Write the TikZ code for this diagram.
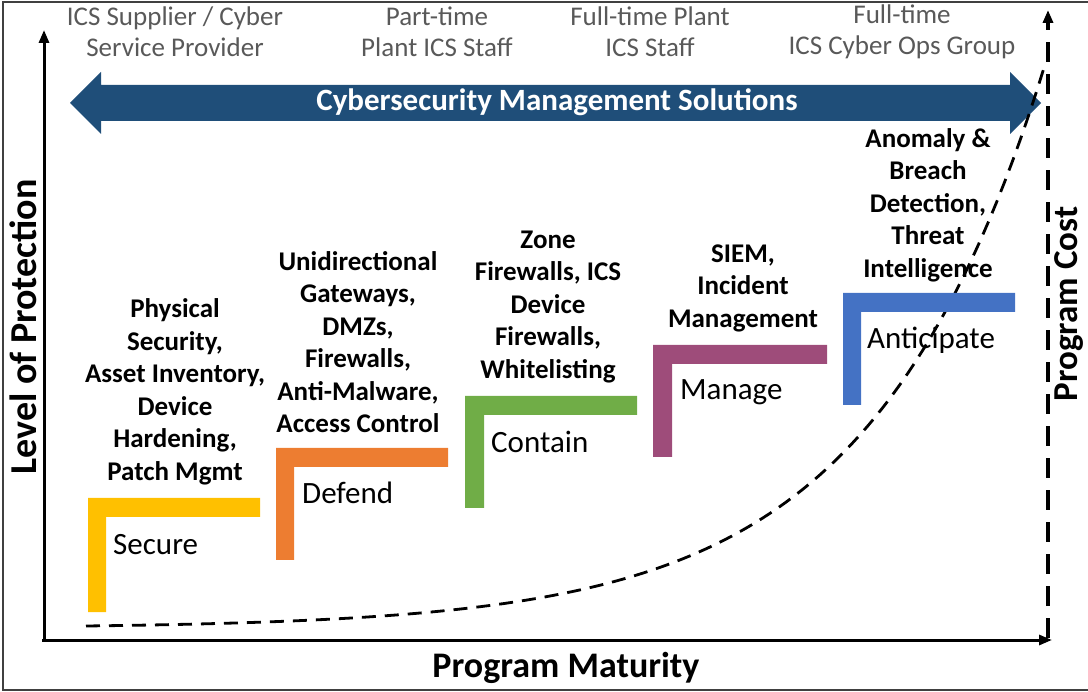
\documentclass[tikz,border=0pt]{standalone}
\usepackage{fontspec}
\setmainfont{Carlito}
\usetikzlibrary{arrows.meta}
\definecolor{navy}{HTML}{1F4E79}
\definecolor{cyel}{HTML}{FFC000}
\definecolor{cora}{HTML}{ED7D31}
\definecolor{cgrn}{HTML}{70AD47}
\definecolor{cpur}{HTML}{9E4C7A}
\definecolor{cblu}{HTML}{4472C4}
\definecolor{tgray}{HTML}{595959}
\begin{document}
\begin{tikzpicture}[x=1pt,y=-1pt,
  toplabel/.style={align=center,text=tgray,font=\fontsize{27}{31}\selectfont,inner sep=0pt},
  desc/.style={align=center,font=\bfseries\fontsize{27}{32.5}\selectfont,inner sep=0pt},
  stagename/.style={anchor=west,font=\fontsize{31}{36}\selectfont,inner sep=0pt},
  axislabel/.style={font=\bfseries\fontsize{35}{40}\selectfont,inner sep=0pt},
  axisline/.style={line width=3pt,-{Triangle[length=13pt,width=10pt]}},
  costline/.style={line width=3.4pt,dash pattern=on 20pt off 12pt,-{Triangle[length=13pt,width=10pt]}},
  curveline/.style={line width=2.8pt,dash pattern=on 14pt off 9pt}
]
\useasboundingbox (0,0) rectangle (1088,692);
% frame
\draw[line width=1.6pt,black!75] (3,2) rectangle (1095,690);

% axes
\coordinate (origin) at (44,641);
\coordinate (ytop) at (44,30);
\coordinate (xstart) at (42,640);
\coordinate (xend) at (1052,640);
\coordinate (cbot) at (1048,638);
\coordinate (ctop) at (1048,10);
\draw[axisline] (origin) -- (ytop);
\draw[axisline] (xstart) -- (xend);
\draw[costline] (cbot) -- (ctop);

% big double arrow
\fill[navy] (70,103) -- (101,72) -- (101,85) -- (1010,85) -- (1010,72) -- (1041,103)
  -- (1010,134) -- (1010,121) -- (101,121) -- (101,134) -- cycle;
\node[text=white,font=\bfseries\fontsize{31}{36}\selectfont,inner sep=0pt] (cms) at (557,102) {Cybersecurity Management Solutions};

% top labels
\node[toplabel] (t1) at (175,32) {ICS Supplier / Cyber\\Service Provider};
\node[toplabel] (t2) at (437,32) {Part-time\\Plant ICS Staff};
\node[toplabel] (t3) at (650,32) {Full-time Plant\\ICS Staff};
\node[toplabel] (t4) at (902,32) {Full-time\\ICS Cyber Ops Group};

% cost curve
\draw[curveline] plot[domain=86:1045,samples=120] (\x,{626-2.2*(exp(0.00578*(\x-86))-1)});

% L steps
\fill[cyel] (88,498) -- (260,498) -- (260,517) -- (106,517) -- (106,612) -- (88,612) -- cycle;
\fill[cora] (276,448) -- (448,448) -- (448,467) -- (294,467) -- (294,560) -- (276,560) -- cycle;
\fill[cgrn] (465,396) -- (637,396) -- (637,415) -- (484,415) -- (484,508) -- (465,508) -- cycle;
\fill[cpur] (653,345) -- (827,345) -- (827,364) -- (672,364) -- (672,457) -- (653,457) -- cycle;
\fill[cblu] (843,293) -- (1015,293) -- (1015,312) -- (861,312) -- (861,405) -- (843,405) -- cycle;

% stage names
\node[stagename] (secure) at (113,545) {Secure};
\node[stagename] (defend) at (302,493) {Defend};
\node[stagename] (contain) at (491,442) {Contain};
\node[stagename] (manage) at (680,392) {Manage};
\node[stagename] (anticipate) at (867,340) {Anticipate};

% descriptions
\node[desc] (d1) at (175,392) {Physical\\Security,\\Asset Inventory,\\Device\\Hardening,\\Patch Mgmt};
\node[desc] (d2) at (358,342) {Unidirectional\\Gateways,\\DMZs,\\Firewalls,\\Anti-Malware,\\Access Control};
\node[desc] (d3) at (548,307) {Zone\\Firewalls, ICS\\Device\\Firewalls,\\Whitelisting};
\node[desc] (d4) at (743,288) {SIEM,\\Incident\\Management};
\node[desc] (d5) at (928,205) {Anomaly \&\\Breach\\Detection,\\Threat\\Intelligence};

% axis labels
\node[axislabel,rotate=90,font=\bfseries\fontsize{38}{42}\selectfont] (lop) at (23,327) {Level of Protection};
\node[axislabel,rotate=90] (pc) at (1069,304) {Program Cost};
\node[axislabel,font=\bfseries\fontsize{36}{40}\selectfont] (pm) at (566,668) {Program Maturity};
\end{tikzpicture}
\end{document}
